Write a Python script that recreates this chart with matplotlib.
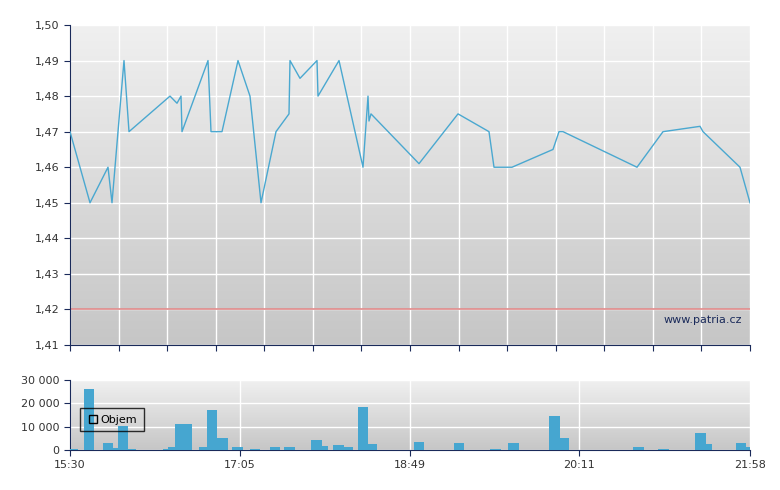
import matplotlib
matplotlib.use("Agg")
import matplotlib.pyplot as plt
import numpy as np

# price series (x = position along the session axis, 0..680)
price_x = [0, 20, 38, 42, 54, 59, 100, 107, 111, 112, 138, 141, 152, 168, 180, 191,
           206, 219, 220, 230, 247, 248, 269, 293, 298, 299, 301, 349, 388, 419, 424,
           442, 483, 489, 493, 567, 593, 630, 633, 670, 680]
price_y = [1.47, 1.45, 1.46, 1.45, 1.49, 1.47, 1.48, 1.478, 1.48, 1.47, 1.49, 1.47, 1.47,
           1.49, 1.48, 1.45, 1.47, 1.475, 1.49, 1.485, 1.49, 1.48, 1.49, 1.46, 1.48, 1.473,
           1.475, 1.461, 1.475, 1.47, 1.46, 1.46, 1.465, 1.47, 1.47, 1.46, 1.47, 1.4715,
           1.47, 1.46, 1.45]
ref_price = 1.42

vol_x = [2.4, 18.9, 37.8, 45.4, 52.9, 61.2, 98.1, 103.5, 110.6, 116.7, 134.5, 142, 152.4,
         167.3, 185, 205.1, 219.5, 246.7, 252.8, 268.4, 277.6, 293, 302.2, 349.2, 389.2,
         425.3, 443.5, 484.4, 494.1, 568.3, 593.3, 630.4, 636.6, 670.8, 678.2]
vol_y = [500, 26000, 3000, 1000, 10500, 500, 500, 1500, 11200, 11000, 1500, 17300, 5300,
         1500, 500, 1500, 1500, 4300, 1800, 2300, 1200, 18500, 2700, 3500, 3200, 600, 3100,
         14700, 5200, 1500, 600, 7500, 2700, 3100, 1200]

time_pos = [0, 170, 340, 509, 680]
time_labels = ["15:30", "17:05", "18:49", "20:11", "21:58"]

navy = "#1a2a5a"
line_c = "#4aa8d0"

fig = plt.figure(figsize=(7.8, 4.9), dpi=100)
ax = fig.add_axes([70 / 780, 1 - 345 / 490, 680 / 780, 320 / 490])
axv = fig.add_axes([70 / 780, 1 - 450 / 490, 680 / 780, 70 / 490])


def gradient(a, top, bottom):
    grad = np.linspace(0, 1, 256).reshape(-1, 1)
    cmap = matplotlib.colors.LinearSegmentedColormap.from_list("g", [top, bottom])
    a.imshow(grad, aspect="auto", cmap=cmap, extent=[0, 680, *a.get_ylim()[::-1]][:2] +
             list(a.get_ylim()), origin="upper", zorder=0)


ax.set_xlim(0, 680)
ax.set_ylim(1.41, 1.50)
ax.imshow(np.linspace(0, 1, 256).reshape(-1, 1), aspect="auto",
          cmap=matplotlib.colors.LinearSegmentedColormap.from_list("g", ["#f0f0f0", "#c6c6c6"]),
          extent=[0, 680, 1.41, 1.50], zorder=0)
ax.plot(price_x, price_y, color=line_c, lw=1, zorder=3)
ax.axhline(ref_price, color="#e08a8a", lw=1.2, zorder=2)
ax.set_yticks(np.arange(1.41, 1.5001, 0.01))
ax.set_yticklabels([f"{v:.2f}".replace(".", ",") for v in np.arange(1.41, 1.5001, 0.01)])
ax.set_xticks(np.linspace(0, 680, 15))
ax.set_xticklabels([])
ax.grid(True, color="white", lw=1, zorder=1)
ax.text(672, 1.4155, "www.patria.cz", ha="right", va="bottom", fontsize=8, color=navy)

axv.set_xlim(0, 680)
axv.set_ylim(0, 30000)
axv.imshow(np.linspace(0, 1, 256).reshape(-1, 1), aspect="auto",
           cmap=matplotlib.colors.LinearSegmentedColormap.from_list("g", ["#f0f0f0", "#c6c6c6"]),
           extent=[0, 680, 0, 30000], zorder=0)
axv.bar(vol_x, vol_y, width=10.5, color="#46a6d0", zorder=3)
axv.set_yticks([0, 10000, 20000, 30000])
axv.set_yticklabels(["0", "10 000", "20 000", "30 000"])
axv.set_xticks(time_pos)
axv.set_xticklabels(time_labels)
axv.grid(True, color="white", lw=1, zorder=1)
axv.plot([], [], "s", mfc="none", mec="black", ms=6, label="Objem")
leg = axv.legend(loc="upper left", bbox_to_anchor=(0.007, 0.68), frameon=True, fancybox=False,
                 handletextpad=0.2, fontsize=8, borderpad=0.6, handlelength=1)
leg.get_frame().set_edgecolor("black")
leg.get_frame().set_facecolor("none")

for a in (ax, axv):
    a.set_axisbelow(True)
    for s in ("top", "right"):
        a.spines[s].set_visible(False)
    for s in ("left", "bottom"):
        a.spines[s].set_color(navy)
    a.tick_params(colors=navy, labelsize=8, length=4, labelcolor="#333333")

fig.savefig("out.png", dpi=100)
